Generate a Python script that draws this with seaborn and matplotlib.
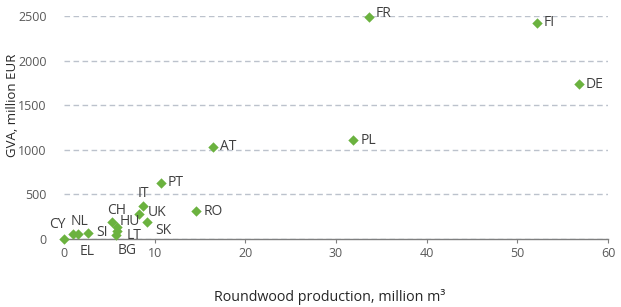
import pandas as pd
import matplotlib.pyplot as plt
import seaborn as sns

# Data
countries = ["FR", "FI", "DE", "PL", "AT", "PT", "IT", "UK", "SK", "RO",
             "CH", "HU", "LT", "BG", "SI", "NL", "EL", "CY"]
roundwood = [33.6, 52.2, 56.8, 31.9, 16.4, 10.7, 8.7, 8.3, 9.2, 14.6,
             5.3, 5.9, 5.9, 5.7, 2.7, 1.5, 1.0, 0.0]
gva = [2495, 2425, 1735, 1110, 1035, 630, 365, 275, 195, 310,
       190, 135, 95, 50, 65, 60, 55, 5]

# label placement (offset in pixels, horizontal alignment)
label_pos = {
    "FR": (7, 3, "left"), "FI": (6, 0, "left"), "DE": (7, 0, "left"),
    "PL": (7, 0, "left"), "AT": (7, 0, "left"), "PT": (7, 0, "left"),
    "IT": (1, 13, "center"), "UK": (9, 2, "left"), "SK": (8, -9, "left"),
    "RO": (7, 0, "left"), "CH": (5, 12, "center"), "HU": (2, 5, "left"),
    "LT": (9, -5, "left"), "BG": (11, -16, "center"), "SI": (8, 1, "left"),
    "NL": (2, 12, "center"), "EL": (14, -17, "center"), "CY": (-7, 14, "center"),
}

df = pd.DataFrame({"country": countries, "roundwood": roundwood, "gva": gva})

sns.set_style("white")
plt.rcParams["font.family"] = ["Open Sans", "DejaVu Sans"]

fig = plt.figure(figsize=(6.21, 3.07), dpi=100)
ax = fig.add_axes([0.103, 0.2215, 0.876, 0.726])

sns.scatterplot(data=df, x="roundwood", y="gva", marker="D", s=28,
                color="#6BB23F", linewidth=0, clip_on=False, zorder=3, ax=ax)

for c, x, y in zip(countries, roundwood, gva):
    dx, dy, ha = label_pos[c]
    ax.annotate(c, (x, y), xytext=(dx, dy), textcoords="offset pixels",
                ha=ha, va="center", fontsize=10, color="#404040")

ax.set_xlim(0, 60)
ax.set_ylim(0, 2500)
ax.set_xticks(range(0, 61, 10))
ax.set_yticks(range(0, 2501, 500))
ax.yaxis.grid(True, color="#BCC2CC", linestyle=(0, (4, 2.5)), linewidth=1)
ax.xaxis.grid(False)

for side in ["left", "right", "top"]:
    ax.spines[side].set_visible(False)
ax.spines["bottom"].set_color("#7F7F7F")
ax.spines["bottom"].set_linewidth(1)

ax.tick_params(axis="x", bottom=True, length=3, width=0.8, color="#7F7F7F",
               labelsize=9, labelcolor="#595959", pad=3)
ax.tick_params(axis="y", left=False, labelsize=9, labelcolor="#595959", pad=9)

ax.set_xlabel("Roundwood production, million m³", fontsize=10.3, color="#262626")
ax.set_ylabel("GVA, million EUR", fontsize=9.5, color="#262626")
ax.xaxis.set_label_coords(0.489, -0.26)
ax.yaxis.set_label_coords(-0.095, 0.60)
ax.xaxis.label.set_va("center")
ax.yaxis.label.set_va("center")

fig.savefig("out.png", dpi=100)
